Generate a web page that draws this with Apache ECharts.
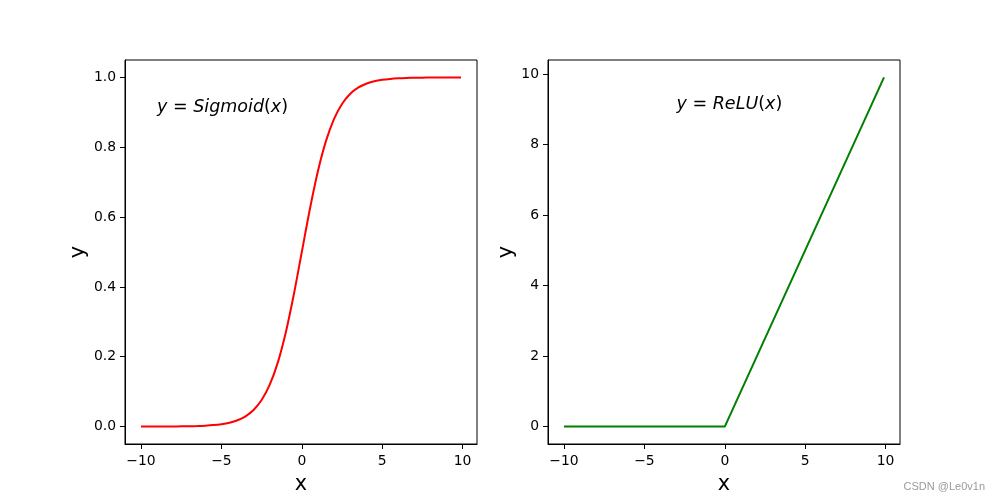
<!DOCTYPE html>
<html>
<head>
<meta charset="utf-8">
<script src="https://cdn.jsdelivr.net/npm/echarts@6/dist/echarts.min.js"></script>
<style>html,body{margin:0;padding:0;background:#fff}#c{width:1000px;height:500px}</style>
</head>
<body>
<div id="c"></div>
<script>
// ---- data ----
const sigX = [-10, -9.5, -9, -8.5, -8, -7.5, -7, -6.5, -6, -5.5, -5, -4.5, -4, -3.5, -3, -2.5, -2, -1.5, -1, -0.5, 0, 0.5, 1, 1.5, 2, 2.5, 3, 3.5, 4, 4.5, 5, 5.5, 6, 6.5, 7, 7.5, 8, 8.5, 9, 9.5, 9.9];
const sigY = [0.00005, 0.00007, 0.00012, 0.0002, 0.00034, 0.00055, 0.0009, 0.0015, 0.0025, 0.0041, 0.0067, 0.011, 0.018, 0.0293, 0.0474, 0.0759, 0.1192, 0.1824, 0.2689, 0.3775, 0.5, 0.6225, 0.7311, 0.8176, 0.8808, 0.9241, 0.9526, 0.9707, 0.982, 0.989, 0.9933, 0.9959, 0.9975, 0.9985, 0.9991, 0.9994, 0.9997, 0.9998, 0.9999, 0.99993, 0.99995];
const reluX = [-10, 0, 9.9];
const reluY = [0, 0, 9.9];
const xTicks = [-10, -5, 0, 5, 10];
const sigYTicks = [0.0, 0.2, 0.4, 0.6, 0.8, 1.0];
const reluYTicks = [0, 2, 4, 6, 8, 10];
const sigLabel = {x: -9, y: 0.9};
const reluLabel = {x: -3, y: 9};
const watermark = 'CSDN @Le0v1n';

const FONT = 'DejaVu Sans';
const fmtX = v => (v < 0 ? '\u2212' + Math.abs(v) : String(v));

function xAxis(gi) {
  return {
    type: 'value', gridIndex: gi, min: -10.995, max: 10.895,
    name: 'x', nameLocation: 'middle', nameGap: 30,
    nameTextStyle: {fontFamily: FONT, fontSize: 20.8, color: '#000'},
    axisLine: {show: true, onZero: false, lineStyle: {color: '#000', width: 1}},
    axisTick: {show: true, inside: false, length: 5, customValues: xTicks, lineStyle: {color: '#000'}},
    axisLabel: {show: true, margin: 10, customValues: xTicks, formatter: fmtX, fontFamily: FONT, fontSize: 13.9, color: '#000'},
    splitLine: {show: false}
  };
}
function yAxis(gi, min, max, ticks, dec, gap) {
  return {
    type: 'value', gridIndex: gi, min: min, max: max,
    name: 'y', nameLocation: 'middle', nameGap: gap, nameRotate: 90,
    nameTextStyle: {fontFamily: FONT, fontSize: 20.8, color: '#000'},
    axisLine: {show: true, onZero: false, lineStyle: {color: '#000', width: 1}},
    axisTick: {show: true, inside: false, length: 5, customValues: ticks, lineStyle: {color: '#000'}},
    axisLabel: {show: true, margin: 9, customValues: ticks, formatter: v => v.toFixed(dec), fontFamily: FONT, fontSize: 13.9, color: '#000'},
    splitLine: {show: false}
  };
}
const richStyles = {
  i: {fontFamily: FONT, fontStyle: 'italic', fontSize: 17.5, color: '#000'},
  r: {fontFamily: FONT, fontSize: 17.5, color: '#000'}
};

const chart = echarts.init(document.getElementById('c'));
chart.setOption({
  animation: false,
  backgroundColor: '#fff',
  grid: [
    {left: 125, top: 60, width: 352, height: 385, show: true, borderColor: '#000', borderWidth: 1, backgroundColor: 'transparent'},
    {left: 548, top: 60, width: 352, height: 385, show: true, borderColor: '#000', borderWidth: 1, backgroundColor: 'transparent'}
  ],
  xAxis: [xAxis(0), xAxis(1)],
  yAxis: [yAxis(0, -0.05, 1.05, sigYTicks, 1, 36), yAxis(1, -0.495, 10.395, reluYTicks, 0, 31)],
  series: [
    {type: 'line', xAxisIndex: 0, yAxisIndex: 0, data: sigX.map((x, i) => [x, sigY[i]]), smooth: 0.3, showSymbol: false, symbol: 'none', lineStyle: {color: '#ff0000', width: 2}},
    {type: 'line', xAxisIndex: 1, yAxisIndex: 1, data: reluX.map((x, i) => [x, reluY[i]]), showSymbol: false, symbol: 'none', lineStyle: {color: '#008000', width: 2}},
    {type: 'scatter', xAxisIndex: 0, yAxisIndex: 0, symbolSize: 0, silent: true, itemStyle: {opacity: 1},
     data: [[sigLabel.x, sigLabel.y]],
     label: {show: true, position: [0, 0], offset: [0, 4], align: 'left', verticalAlign: 'bottom', color: '#000', opacity: 1,
       formatter: '{i|y}{r| = }{i|Sigmoid}{r|(}{i|x}{r|)}', rich: richStyles}},
    {type: 'scatter', xAxisIndex: 1, yAxisIndex: 1, symbolSize: 0, silent: true, itemStyle: {opacity: 1},
     data: [[reluLabel.x, reluLabel.y]],
     label: {show: true, position: [0, 0], offset: [0, 4], align: 'left', verticalAlign: 'bottom', color: '#000', opacity: 1,
       formatter: '{i|y}{r| = }{i|ReLU}{r|(}{i|x}{r|)}', rich: richStyles}}
  ],
  graphic: [
    {type: 'text', right: 15, bottom: 8, style: {text: watermark, fontFamily: 'Liberation Sans', fontSize: 11, fill: '#999'}}
  ]
});
</script>
</body>
</html>
